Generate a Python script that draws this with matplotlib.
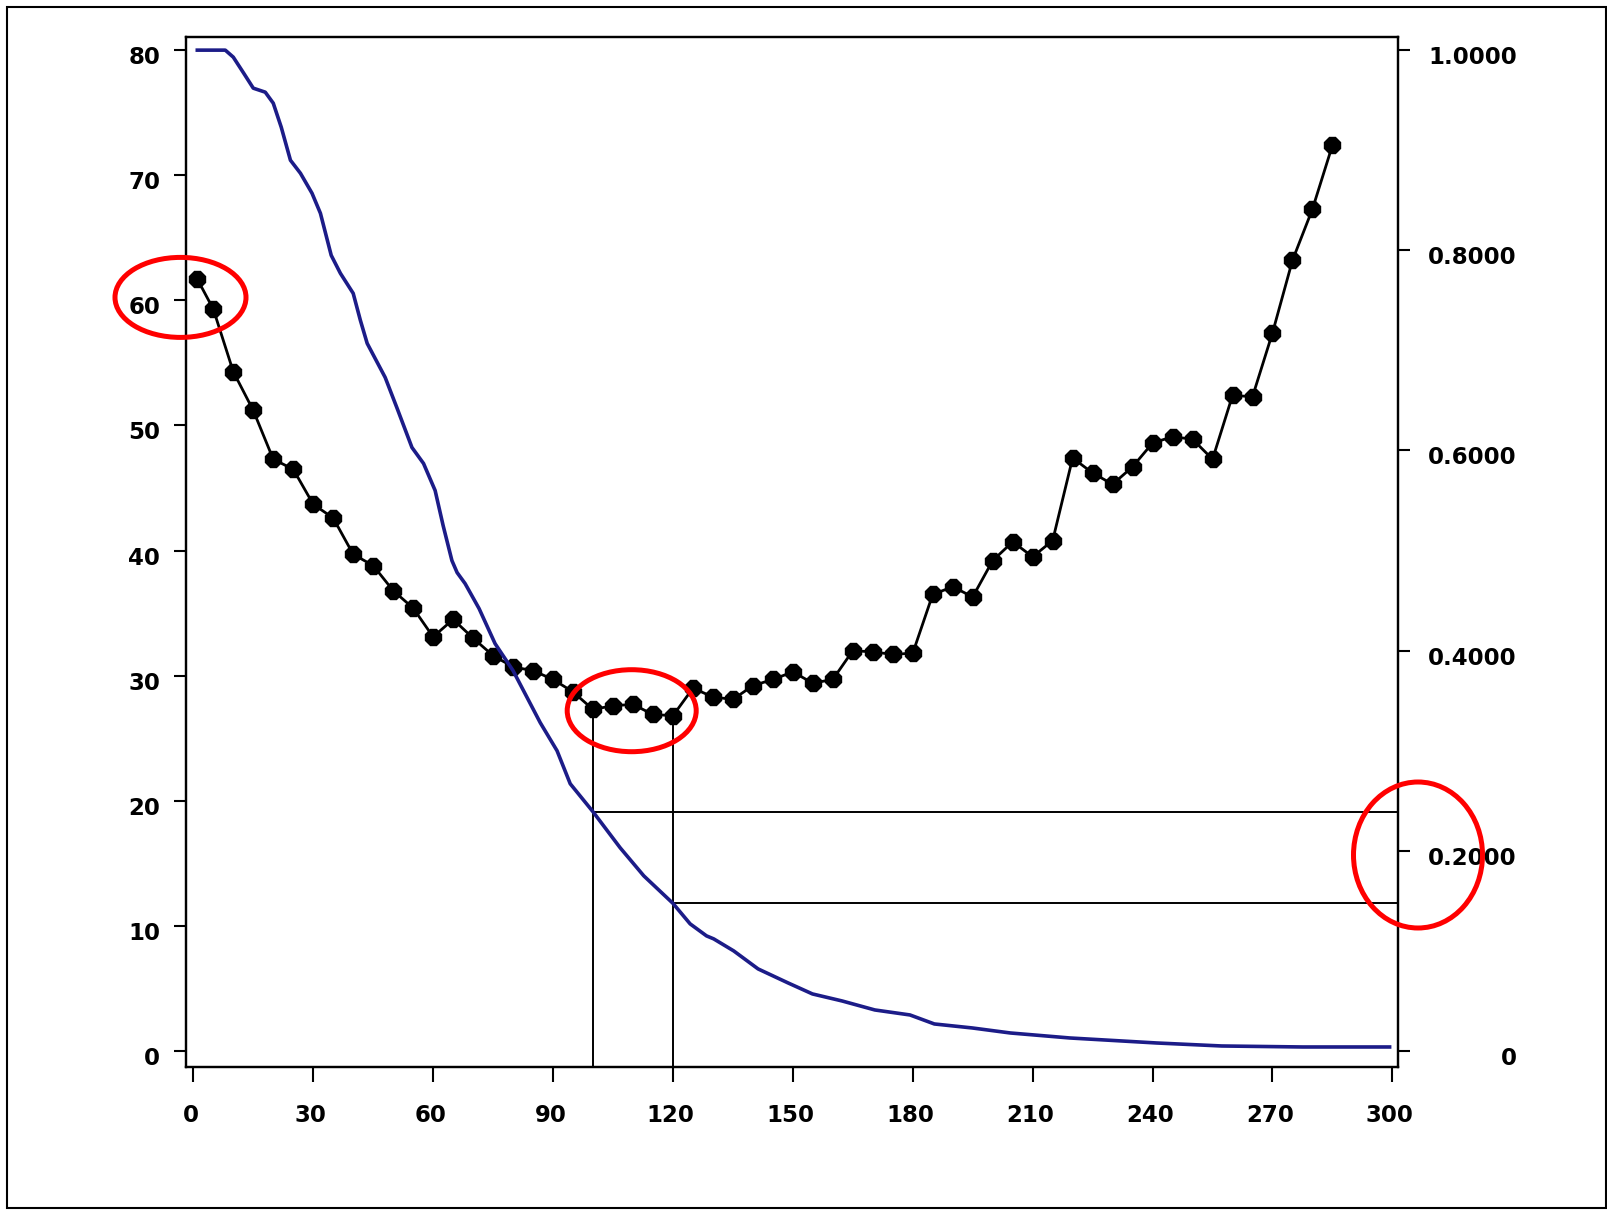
import matplotlib
matplotlib.use("Agg")
import matplotlib.pyplot as plt
import matplotlib.transforms as mtransforms
from matplotlib.patches import Ellipse, Rectangle

# ---- data ----
black_x = [1, 5, 10, 15, 20, 25, 30, 35, 40, 45, 50, 55, 60, 65, 70, 75, 80, 85, 90, 95,
           100, 105, 110, 115, 120, 125, 130, 135, 140, 145, 150, 155, 160, 165, 170, 175,
           180, 185, 190, 195, 200, 205, 210, 215, 220, 225, 230, 235, 240, 245, 250, 255,
           260, 265, 270, 275, 280, 285]
black_y = [61.7, 59.3, 54.3, 51.2, 47.3, 46.5, 43.7, 42.6, 39.7, 38.8, 36.8, 35.4, 33.1, 34.5,
           33.0, 31.6, 30.7, 30.4, 29.7, 28.7, 27.3, 27.6, 27.7, 26.9, 26.8, 29.0, 28.3, 28.1,
           29.2, 29.7, 30.3, 29.4, 29.7, 32.0, 31.9, 31.7, 31.8, 36.5, 37.1, 36.3, 39.2, 40.7,
           39.5, 40.8, 47.4, 46.2, 45.3, 46.7, 48.6, 49.1, 48.9, 47.3, 52.4, 52.3, 57.4, 63.2,
           67.3, 72.4]

blue_x = [1, 8, 10, 12.6, 15, 18, 20, 22, 24.3, 26.8, 29.7, 31.8, 34.5, 36.8, 40, 41.8, 43.5,
          48, 51, 54.7, 57.6, 60.5, 62.5, 64.7, 66, 68, 71.5, 75.5, 80, 86.8, 91, 94.3, 100,
          106.8, 112.7, 120, 124.3, 128.4, 130.2, 135.2, 141.3, 148.8, 154.9, 162.3, 170.5,
          179.3, 185.4, 194.9, 204.4, 219.3, 241, 257.3, 277.6, 299.3]
blue_v = [1.0, 1.0, 0.993, 0.977, 0.962, 0.958, 0.947, 0.923, 0.89, 0.877, 0.857, 0.837,
          0.795, 0.777, 0.757, 0.73, 0.707, 0.673, 0.642, 0.603, 0.587, 0.56, 0.525, 0.49,
          0.478, 0.467, 0.442, 0.407, 0.38, 0.328, 0.3, 0.267, 0.239, 0.203, 0.175, 0.1475,
          0.127, 0.115, 0.112, 0.1, 0.082, 0.068, 0.057, 0.05, 0.041, 0.036, 0.027, 0.023,
          0.018, 0.013, 0.008, 0.005, 0.004, 0.004]

ref_x = [100, 120]
ref_y = [27.3, 26.8]
ref_v = [0.239, 0.1475]

left_ticks = [0, 10, 20, 30, 40, 50, 60, 70, 80]
left_labels = ["0", "10", "20", "30", "40", "50", "60", "70", "80"]
right_ticks = [0, 0.2, 0.4, 0.6, 0.8, 1.0]
right_labels = ["0", "0.2000", "0.4000", "0.6000", "0.8000", "1.0000"]
x_ticks = [0, 30, 60, 90, 120, 150, 180, 210, 240, 270, 300]
x_labels = ["0", "30", "60", "90", "120", "150", "180", "210", "240", "270", "300"]

# ---- figure ----
W, H = 1608, 1210
fig = plt.figure(figsize=(W / 100, H / 100), dpi=100)
fig.patch.set_facecolor("white")

left, right, top, bottom = 186, 1398, 37, 1067
ax = fig.add_axes([left / W, 1 - bottom / H, (right - left) / W, (bottom - top) / H])
ax2 = ax.twinx()

xlim = (-1.83, 301.4)
ylim = (-1.28, 81.05)
ax.set_xlim(*xlim)
ax.set_ylim(*ylim)
ax2.set_ylim(ylim[0] / 80, ylim[1] / 80)

navy = "#1c1c88"
ax2.plot(blue_x, blue_v, color=navy, lw=2.6, solid_joinstyle="round", zorder=2)
ax.plot(black_x, black_y, color="black", lw=2.0, marker="8", ms=12.5, mfc="black",
        mec="black", zorder=3)

# reference lines
for xr, yr, vr in zip(ref_x, ref_y, ref_v):
    ax.plot([xr, xr], [ylim[0], yr], color="black", lw=1.4, zorder=2)
    ax2.plot([xr, xlim[1]], [vr, vr], color="black", lw=1.4, zorder=1)

font = dict(family="DejaVu Sans", weight="bold", size=16.5)

ax.set_xticks(x_ticks)
ax.set_xticklabels(x_labels, **font)
ax.set_yticks(left_ticks)
ax.set_yticklabels(left_labels, **font)
ax2.set_yticks(right_ticks)
ax2.set_yticklabels(right_labels, **font)

ax.tick_params(axis="x", direction="out", length=10.8, width=1.5, pad=16, colors="black")
ax.tick_params(axis="y", direction="out", length=8.6, width=1.5, pad=10, colors="black")
ax2.tick_params(axis="y", direction="out", length=8.6, width=1.5, pad=77, colors="black")
for lab in ax2.get_yticklabels():
    lab.set_horizontalalignment("right")

offset = mtransforms.ScaledTranslation(0, -5 / 100, fig.dpi_scale_trans)
for lab in ax.get_yticklabels() + ax2.get_yticklabels():
    lab.set_transform(lab.get_transform() + offset)
xoff = mtransforms.ScaledTranslation(-2.5 / 100, 0, fig.dpi_scale_trans)
for lab in ax.get_xticklabels():
    lab.set_transform(lab.get_transform() + xoff)

for a in (ax, ax2):
    for s in a.spines.values():
        s.set_linewidth(1.6)
        s.set_color("black")

# red annotation ellipses (figure pixel positions)
ellipses = [(180.5, 297.4, 131, 80), (631.7, 710.7, 129, 82), (1418, 855, 129, 146)]
for cx, cy, w, h in ellipses:
    e = Ellipse((cx / W, 1 - cy / H), w / W, h / H, transform=fig.transFigure,
                fill=False, edgecolor="#ff0000", lw=3.6, zorder=10)
    fig.add_artist(e)

# outer frame
frame = Rectangle((7 / W, 1 - 1208 / H), (1606 - 7) / W, (1208 - 7) / H,
                  transform=fig.transFigure, fill=False, edgecolor="black", lw=1.5, zorder=10)
fig.add_artist(frame)

fig.savefig("out.png", dpi=100, facecolor="white")
